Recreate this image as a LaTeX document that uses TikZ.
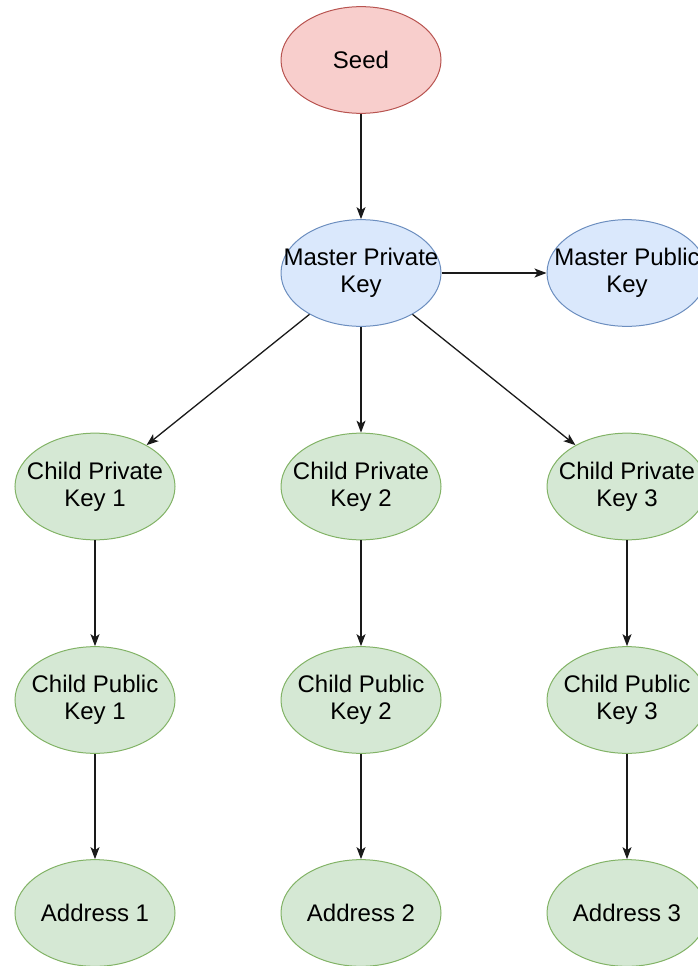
\documentclass[tikz,border=0pt]{standalone}
\usepackage{fontspec}
\setmainfont{Liberation Sans}
\usetikzlibrary{shapes.geometric,arrows.meta}
\definecolor{redfill}{HTML}{F8CECC}
\definecolor{redline}{HTML}{B85450}
\definecolor{bluefill}{HTML}{DAE8FC}
\definecolor{blueline}{HTML}{6C8EBF}
\definecolor{greenfill}{HTML}{D5E8D4}
\definecolor{greenline}{HTML}{82B366}
\definecolor{linkcol}{HTML}{1A1A1A}
\newcommand{\zw}[1]{\makebox[0pt]{#1}}
\tikzset{
  keynode/.style={ellipse, minimum width=160pt, minimum height=106.7pt, inner sep=0pt,
    align=center, line width=1pt, font=\fontsize{24pt}{27pt}\selectfont, text=black},
  rednode/.style={keynode, draw=redline, fill=redfill},
  bluenode/.style={keynode, draw=blueline, fill=bluefill},
  greennode/.style={keynode, draw=greenline, fill=greenfill},
  link/.style={draw=linkcol, line width=1.3pt, -{Stealth[length=12pt,width=9pt,inset=3pt]}}
}
\begin{document}
\begin{tikzpicture}[x=1pt,y=-1pt]
\useasboundingbox (0,0) rectangle (697,966);
\node[rednode] (seed) at (361,60) {\zw{Seed}};
\node[bluenode] (mpk) at (361,273) {\zw{Master Private}\\\zw{Key}};
\node[bluenode] (mpub) at (627,273) {\zw{Master Public}\\\zw{Key}};
\node[greennode] (cpk1) at (95,486.5) {\zw{Child Private}\\\zw{Key 1}};
\node[greennode] (cpk2) at (361,486.5) {\zw{Child Private}\\\zw{Key 2}};
\node[greennode] (cpk3) at (627,486.5) {\zw{Child Private}\\\zw{Key 3}};
\node[greennode] (cpub1) at (95,700) {\zw{Child Public}\\\zw{Key 1}};
\node[greennode] (cpub2) at (361,700) {\zw{Child Public}\\\zw{Key 2}};
\node[greennode] (cpub3) at (627,700) {\zw{Child Public}\\\zw{Key 3}};
\node[greennode] (addr1) at (95,913) {\zw{Address 1}};
\node[greennode] (addr2) at (361,913) {\zw{Address 2}};
\node[greennode] (addr3) at (627,913) {\zw{Address 3}};
\draw[link] (seed) -- (mpk);
\draw[link] (mpk) -- (mpub);
\draw[link] (mpk) -- (cpk1);
\draw[link] (mpk) -- (cpk2);
\draw[link] (mpk) -- (cpk3);
\draw[link] (cpk1) -- (cpub1);
\draw[link] (cpk2) -- (cpub2);
\draw[link] (cpk3) -- (cpub3);
\draw[link] (cpub1) -- (addr1);
\draw[link] (cpub2) -- (addr2);
\draw[link] (cpub3) -- (addr3);
\end{tikzpicture}
\end{document}
